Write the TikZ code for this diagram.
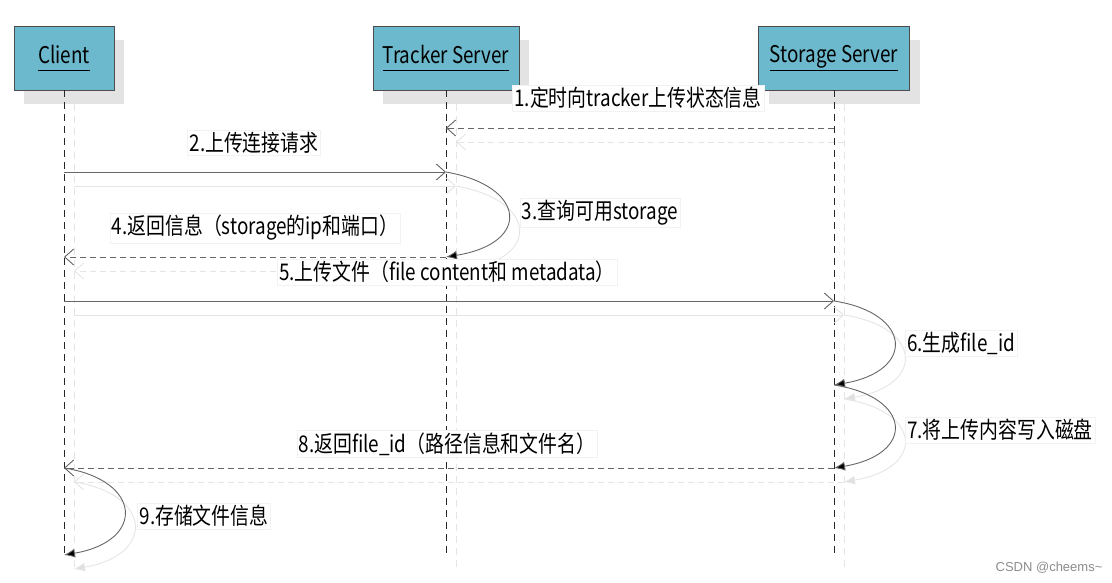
\documentclass[tikz,border=0pt]{standalone}
\usepackage{fontspec}
\setmainfont{Noto Sans CJK SC}[FakeStretch=0.82]
\newfontfamily\markfont{Liberation Sans}
\usetikzlibrary{arrows.meta}

\definecolor{boxblue}{RGB}{108,185,205}

\tikzset{
	actor/.style={draw=black!70, fill=boxblue, minimum height=64pt, inner sep=0pt, font=\fontsize{23}{25}\selectfont},
	actorshade/.style={fill=black!11, minimum height=64pt, inner sep=0pt},
	lifeline/.style={black!85, dash pattern=on 7pt off 5pt},
	msg/.style={line width=.9pt, -{Straight Barb[length=9pt,width=16pt]}},
	back/.style={msg, dash pattern=on 6pt off 4pt},
	self/.style={line width=.9pt, -{Latex[length=11pt,width=9pt]}},
	lbl/.style={fill=white, draw=black!5, inner sep=2pt, font=\fontsize{23}{25}\selectfont}
}

\begin{document}
\begin{tikzpicture}[x=1pt, y=-1pt]
	\useasboundingbox (0,0) rectangle (1112,583);
	% shadow boxes and lifelines
	\foreach \n/\x/\w in {client/64/100, tracker/446/146, storage/834/151}{
		\node[actorshade, minimum width=\w pt] (\n sh) at (\x+10,58+14) {};
		\draw[black!10, dash pattern=on 7pt off 5pt] (\n sh.south) -- (\x+10,572);
	}
	% actors
	\node[actor, minimum width=100pt] (client) at (64,58) {\underline{Client\vphantom{g}}};
	\node[actor, minimum width=146pt] (tracker) at (446,58) {\underline{Tracker Server\vphantom{g}}};
	\node[actor, minimum width=151pt] (storage) at (834,58) {\underline{Storage Server\vphantom{g}}};
	\coordinate (clientend) at (64,557);
	\coordinate (trackerend) at (446,557);
	\coordinate (storageend) at (834,557);
	\draw[lifeline] (client.south) -- (clientend);
	\draw[lifeline] (tracker.south) -- (trackerend);
	\draw[lifeline] (storage.south) -- (storageend);
	% messages, first the light copy, then the real one
	\foreach \dx/\dy/\ink/\tip in {10/14/black!10/black!12, 0/0/black!60/black}{
		\begin{scope}[shift={(\dx,\dy)}, draw=\ink]
			\coordinate (s1) at (834,128); \coordinate (t1) at (446,128);
			\coordinate (c2) at (64,172); \coordinate (t2) at (446,172);
			\coordinate (t4) at (446,257); \coordinate (c4) at (64,257);
			\coordinate (c5) at (64,301); \coordinate (s5) at (834,301);
			\coordinate (s7) at (834,385);
			\coordinate (s8) at (834,468); \coordinate (c8) at (64,468);
			\coordinate (c9) at (64,555);
			\draw[back] (s1) -- (t1);
			\draw[msg] (c2) -- (t2);
			\draw[self, -{Latex[length=11pt,width=9pt,fill=\tip]}] (t2) .. controls +(80,14) and +(86,-14) .. (t4);
			\draw[back] (t4) -- (c4);
			\draw[msg] (c5) -- (s5);
			\draw[self, -{Latex[length=11pt,width=9pt,fill=\tip]}] (s5) .. controls +(78,12) and +(82,-14) .. (s7);
			\draw[self, -{Latex[length=11pt,width=9pt,fill=\tip]}] (s7) .. controls +(78,12) and +(82,-14) .. (s8);
			\draw[back] (s8) -- (c8);
			\draw[self, -{Latex[length=11pt,width=9pt,fill=\tip]}] (c8) .. controls +(78,12) and +(82,-14) .. (c9);
		\end{scope}
	}
	% labels
	\node[lbl] (l1) at (638,98) {1.定时向tracker上传状态信息};
	\node[lbl] (l2) at (254,143) {2.上传连接请求};
	\node[lbl] (l3) at (600,213) {3.查询可用storage};
	\node[lbl] (l4) at (255,228) {4.返回信息（storage的ip和端口）};
	\node[lbl] (l5) at (447,272) {5.上传文件（file content和 metadata）};
	\node[lbl] (l6) at (961,343) {6.生成file\_id};
	\node[lbl] (l7) at (1000,430) {7.将上传内容写入磁盘};
	\node[lbl] (l8) at (447,444) {8.返回file\_id（路径信息和文件名）};
	\node[lbl] (l9) at (204,516) {9.存储文件信息};
	\node[text=black!45, font=\markfont\fontsize{13}{14}\selectfont] (mark) at (1049,568) {CSDN @cheems\textasciitilde};
\end{tikzpicture}
\end{document}
